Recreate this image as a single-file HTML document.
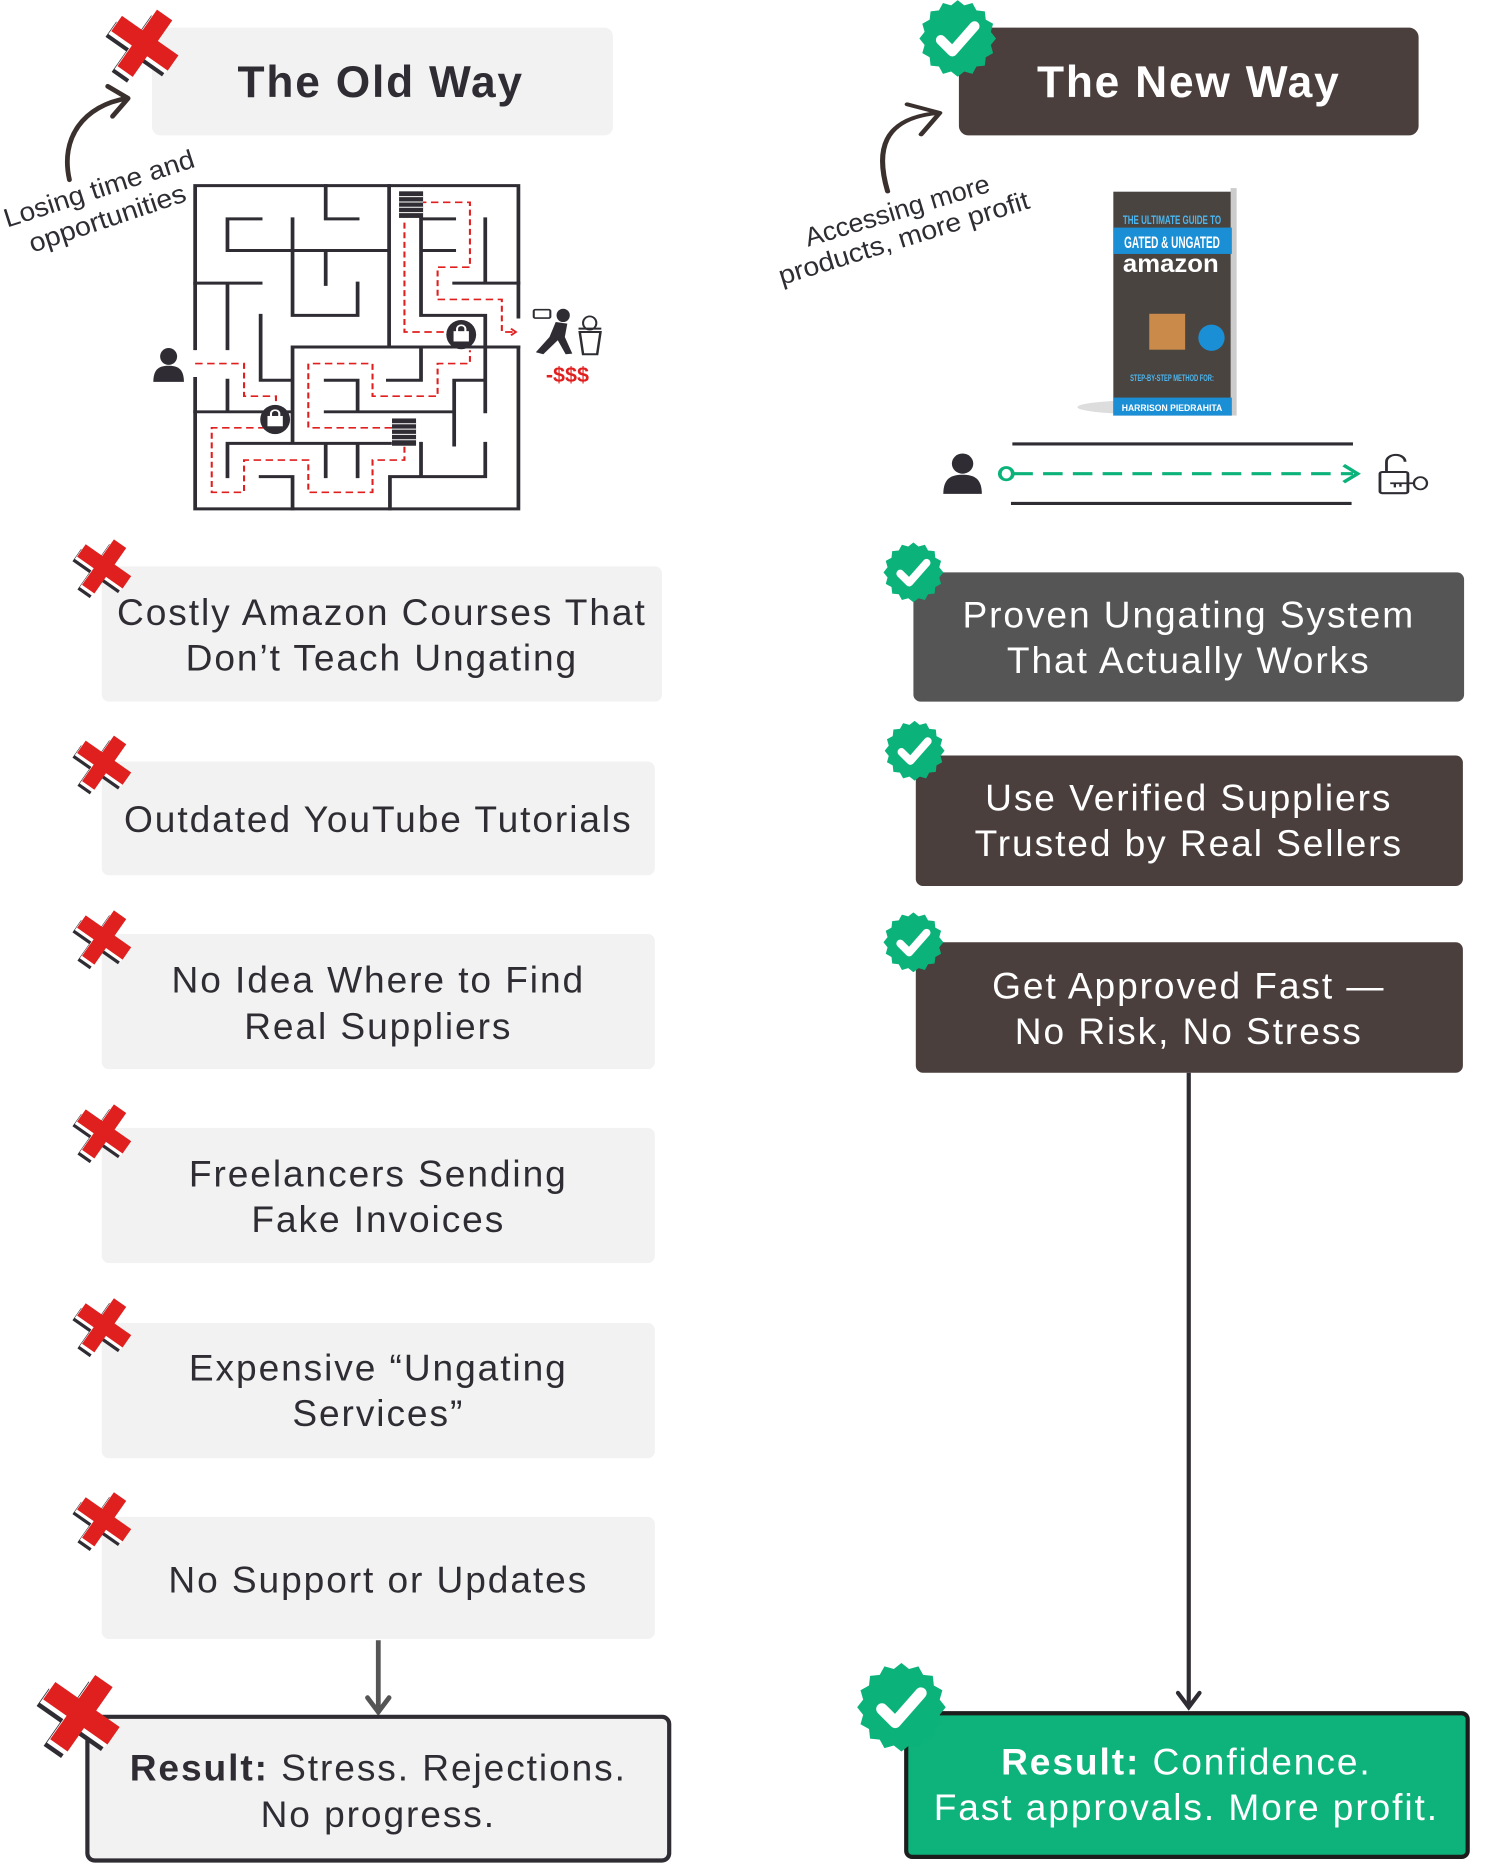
<!DOCTYPE html>
<html><head><meta charset="utf-8"><style>
html,body{margin:0;padding:0;background:#fff;width:1500px;height:1875px;overflow:hidden}
svg{display:block}
.t{font-family:"Liberation Sans",sans-serif;fill:#2f2d33;font-size:31px;letter-spacing:1.6px;text-anchor:middle}
.w{fill:#fff}
.h{font-weight:bold;font-size:37px;letter-spacing:1.5px}
.a{font-family:"Liberation Sans",sans-serif;font-size:22px;fill:#2f2d33}
</style></head><body>
<svg width="1500" height="1875" viewBox="0 0 1253 1566" xmlns="http://www.w3.org/2000/svg">
<defs>
<symbol id="badge" viewBox="-50 -50 100 100">
<polygon fill="#0bb37a" points="50,0 43.2,8.6 46.2,19.2 36.6,24.5 35.4,35.4 24.5,36.6 19.2,46.2 8.6,43.2 0,50 -8.6,43.2 -19.2,46.2 -24.5,36.6 -35.4,35.4 -36.6,24.5 -46.2,19.2 -43.2,8.6 -50,0 -43.2,-8.6 -46.2,-19.2 -36.6,-24.5 -35.4,-35.4 -24.5,-36.6 -19.2,-46.2 -8.6,-43.2 0,-50 8.6,-43.2 19.2,-46.2 24.5,-36.6 35.4,-35.4 36.6,-24.5 46.2,-19.2 43.2,-8.6"/>
<path d="M-22,2 L-7,17 L22,-16" fill="none" stroke="#fff" stroke-width="13" stroke-linecap="round" stroke-linejoin="round"/>
</symbol>
<symbol id="xx" viewBox="-60 -60 120 120">
<g transform="translate(-8,8) rotate(35)"><rect x="-13" y="-48" width="26" height="96" fill="#2f2d33"/><rect x="-48" y="-13" width="96" height="26" fill="#2f2d33"/></g>
<g transform="translate(-4,4) rotate(35)"><rect x="-13" y="-48" width="26" height="96" fill="#fff"/><rect x="-48" y="-13" width="96" height="26" fill="#fff"/></g>
<g transform="rotate(35)"><rect x="-13" y="-48" width="26" height="96" fill="#e01f1f"/><rect x="-48" y="-13" width="96" height="26" fill="#e01f1f"/></g>
</symbol>
<symbol id="person" viewBox="0 0 40 44" preserveAspectRatio="none">
<circle cx="20" cy="12" r="10" fill="#2f2d33"/><path d="M2,42 C2,26 10,23 20,23 C30,23 38,26 38,42 Z" fill="#2f2d33"/>
</symbol>
</defs>

<!-- OLD WAY header -->
<rect x="127" y="23" width="385" height="90" rx="7" fill="#f2f2f2"/>
<text class="t h" x="318" y="81">The Old Way</text>
<use href="#xx" x="82" y="0" width="78" height="72"/>
<path d="M58,150 C50,115 70,88 106,82" fill="none" stroke="#3a302d" stroke-width="4" stroke-linecap="round"/>
<path d="M90,72 L107,82 L94,97" fill="none" stroke="#3a302d" stroke-width="4" stroke-linecap="round" stroke-linejoin="round"/>
<text class="a" transform="translate(6,190) rotate(-17.9)" textLength="166" lengthAdjust="spacingAndGlyphs">Losing time and</text>
<text class="a" transform="translate(27,211) rotate(-18.5)" textLength="137" lengthAdjust="spacingAndGlyphs">opportunities</text>

<!-- maze group in crop coords -->
<g transform="translate(0.3,125.8) scale(0.3462,0.2778)">
<g fill="none" stroke="#2f2d33" stroke-width="9" stroke-linecap="square">
<path d="M470,595 L470,105 L1250,105 L1250,500 M1250,590 L1250,1077 L470,1077 L470,685"/>
<path d="M785,105 L785,205 L862,205 M548,205 L628,205 M548,205 L548,300 L938,300 M705,205 L705,495 L862,495 L862,398 M785,300 L785,402 M938,105 L938,590 M470,398 L628,398 M548,398 L548,595 M628,495 L628,690 L705,690 M1015,205 L1095,205 M1015,205 L1015,495 L1170,495 L1170,590 M1015,300 L1095,300 M1170,205 L1170,398 M1095,398 L1250,398 M705,590 L1250,590 M1170,590 L1170,785 M1015,590 L1015,690 L935,690 M785,690 L862,690 L862,785 M785,785 L1095,785 M1095,690 L1170,690 M1095,690 L1095,885 M470,785 L705,785 M548,690 L548,785 M705,590 L705,880 M548,880 L940,880 M548,880 L548,980 M785,880 L785,980 M862,880 L862,980 M628,980 L705,980 L705,1077 M940,980 L1170,980 M940,980 L940,1077 M1170,880 L1170,980 M1015,880 L1015,975"/>
</g>
<g fill="none" stroke="#e01f1f" stroke-width="5" stroke-dasharray="18 11">
<path d="M470,640 L588,640 L588,738 L665,738 L665,760"/>
<path d="M640,833 L510,833 L510,1027 L588,1027 L588,930 L743,930 L743,1027 L898,1027 L898,930 L975,930 L975,880"/>
<path d="M945,833 L743,833 L743,640 L898,640 L898,738 L1055,738 L1055,640 L1133,640 L1133,600"/>
<path d="M1070,545 L975,545 L975,205"/>
<path d="M1010,155 L1133,155 L1133,350 L1055,350 L1055,447 L1210,447 L1210,545 L1240,545"/>
</g>
<path d="M1232,535 L1244,545 L1232,555" fill="none" stroke="#e01f1f" stroke-width="5"/>
<ellipse cx="663" cy="808" rx="36" ry="44" fill="#2f2d33"/><ellipse cx="1112" cy="553" rx="36" ry="44" fill="#2f2d33"/>
<g fill="none" stroke="#fff" stroke-width="5"><rect x="647" y="800" width="32" height="26" fill="#fff"/><path d="M653,800 v-10 a10,10 0 0 1 20,0 v10"/><rect x="1096" y="545" width="32" height="26" fill="#fff"/><path d="M1102,545 v-10 a10,10 0 0 1 20,0 v10"/></g>
<g fill="#2f2d33"><rect x="962" y="122" width="58" height="80"/><rect x="945" y="805" width="58" height="82"/></g>
<g stroke="#fff" stroke-width="3"><path d="M962,138 H1020 M962,154 H1020 M962,170 H1020 M962,186 H1020 M945,821 H1003 M945,837 H1003 M945,853 H1003 M945,869 H1003"/></g>
<use href="#person" x="365" y="588" width="82" height="112"/>
<g fill="#2f2d33"><ellipse cx="1358" cy="495" rx="16" ry="20"/><path d="M1340,515 L1368,520 L1362,560 L1380,610 L1364,612 L1345,570 L1310,612 L1292,606 L1325,560 Z"/></g>
<rect x="1287" y="478" width="40" height="25" rx="4" fill="none" stroke="#2f2d33" stroke-width="5"/>
<path d="M1398,545 H1448 L1440,612 H1406 Z M1395,535 H1450" fill="none" stroke="#2f2d33" stroke-width="6"/>
<ellipse cx="1422" cy="518" rx="16" ry="20" fill="none" stroke="#2f2d33" stroke-width="5"/>
</g>
<text x="474" y="319" style="font-family:'Liberation Sans',sans-serif;font-size:18px;font-weight:bold;fill:#e01f1f;text-anchor:middle">-$$$</text>

<!-- NEW WAY header -->
<rect x="801" y="23" width="384" height="90" rx="8" fill="#4a3f3c"/>
<text class="t h w" x="993" y="81">The New Way</text>
<use href="#badge" x="768" y="0" width="64" height="64"/>

<g transform="translate(648.2,1.3) scale(0.3887,0.2857)">
<path d="M240,555 C215,440 225,340 350,325" fill="none" stroke="#3a302d" stroke-width="11" stroke-linecap="round"/>
<path d="M282,300 L352,325 L312,388" fill="none" stroke="#3a302d" stroke-width="11" stroke-linecap="round" stroke-linejoin="round"/>
<use href="#person" x="355" y="1315" width="92" height="130"/>
<path d="M508,1293 H1240 M505,1467 H1237" stroke="#2f2d33" stroke-width="9"/>
<path d="M510,1380 H1240" stroke="#0bb37a" stroke-width="9" stroke-dasharray="42 22"/>
<ellipse cx="495" cy="1380" rx="14" ry="18" fill="#fff" stroke="#0bb37a" stroke-width="8"/>
<path d="M1220,1355 L1250,1380 L1220,1405" fill="none" stroke="#0bb37a" stroke-width="9"/>
<rect x="1298" y="1375" width="60" height="62" rx="5" fill="none" stroke="#2f2d33" stroke-width="6"/>
<path d="M1312,1375 V1345 a20,20 0 0 1 40,0" fill="none" stroke="#2f2d33" stroke-width="6"/>
<ellipse cx="1385" cy="1408" rx="14" ry="18" fill="#fff" stroke="#2f2d33" stroke-width="5"/>
<path d="M1320,1408 H1372 M1330,1408 v12 M1342,1408 v10" stroke="#2f2d33" stroke-width="5"/>
</g>
<text class="a" transform="translate(675,206) rotate(-16.8)" textLength="160" lengthAdjust="spacingAndGlyphs">Accessing more</text>
<text class="a" transform="translate(653,238) rotate(-17.2)" textLength="218" lengthAdjust="spacingAndGlyphs">products, more profit</text>

<!-- book -->
<ellipse cx="960" cy="340" rx="60" ry="6" fill="#ddd"/>
<rect x="930" y="160" width="99" height="187" fill="#4a4440"/>
<rect x="1028" y="157" width="5" height="190" fill="#ccc"/>
<rect x="930" y="190" width="99" height="22" fill="#1a8fd6"/>
<rect x="930" y="332" width="99" height="15" fill="#1a8fd6"/>
<text x="979" y="187" textLength="82" lengthAdjust="spacingAndGlyphs" style="font-family:'Liberation Sans',sans-serif;font-size:10px;fill:#4bb6f0;text-anchor:middle;font-weight:bold">THE ULTIMATE GUIDE TO</text>
<text x="979" y="207" textLength="80" lengthAdjust="spacingAndGlyphs" style="font-family:'Liberation Sans',sans-serif;font-size:14px;fill:#fff;text-anchor:middle;font-weight:bold">GATED &amp; UNGATED</text>
<text x="978" y="227" textLength="80" lengthAdjust="spacingAndGlyphs" style="font-family:'Liberation Sans',sans-serif;font-size:21px;fill:#fff;text-anchor:middle;font-weight:bold">amazon</text>
<rect x="960" y="262" width="30" height="30" fill="#c98a4a"/>
<circle cx="1012" cy="282" r="11" fill="#1a8fd6"/>
<text x="979" y="318" textLength="70" lengthAdjust="spacingAndGlyphs" style="font-family:'Liberation Sans',sans-serif;font-size:8px;fill:#4bb6f0;text-anchor:middle;font-weight:bold">STEP-BY-STEP METHOD FOR:</text>
<text x="979" y="343" textLength="84" lengthAdjust="spacingAndGlyphs" style="font-family:'Liberation Sans',sans-serif;font-size:8px;fill:#fff;text-anchor:middle;font-weight:bold">HARRISON PIEDRAHITA</text>

<!-- LEFT items -->
<g fill="#f2f2f2">
<rect x="85" y="473" width="468" height="113" rx="6"/>
<rect x="85" y="636" width="462" height="95" rx="6"/>
<rect x="85" y="780" width="462" height="113" rx="6"/>
<rect x="85" y="942" width="462" height="113" rx="6"/>
<rect x="85" y="1105" width="462" height="113" rx="6"/>
<rect x="85" y="1267" width="462" height="102" rx="6"/>
</g>
<text class="t" x="319" y="522">Costly Amazon Courses That</text>
<text class="t" x="319" y="560">Don’t Teach Ungating</text>
<text class="t" x="316" y="695">Outdated YouTube Tutorials</text>
<text class="t" x="316" y="829">No Idea Where to Find</text>
<text class="t" x="316" y="868">Real Suppliers</text>
<text class="t" x="316" y="991">Freelancers Sending</text>
<text class="t" x="316" y="1029">Fake Invoices</text>
<text class="t" x="316" y="1153">Expensive “Ungating</text>
<text class="t" x="316" y="1191">Services”</text>
<text class="t" x="316" y="1330">No Support or Updates</text>
<use href="#xx" x="56" y="444" width="62" height="58"/>
<use href="#xx" x="56" y="608" width="62" height="58"/>
<use href="#xx" x="56" y="754" width="62" height="58"/>
<use href="#xx" x="56" y="916" width="62" height="58"/>
<use href="#xx" x="56" y="1078" width="62" height="58"/>
<use href="#xx" x="56" y="1240" width="62" height="58"/>

<path d="M316,1370 V1428" stroke="#555" stroke-width="4"/>
<path d="M307,1418 L316,1430 L325,1418" fill="none" stroke="#555" stroke-width="4" stroke-linecap="round"/>
<rect x="73" y="1434" width="486" height="120" rx="6" fill="#f2f2f2" stroke="#2f2d33" stroke-width="3.5"/>
<text class="t" x="316" y="1487"><tspan font-weight="bold">Result:</tspan> Stress. Rejections.</text>
<text class="t" x="316" y="1526">No progress.</text>
<use href="#xx" x="26" y="1390" width="84" height="82"/>

<!-- RIGHT items -->
<rect x="763" y="478" width="460" height="108" rx="6" fill="#555555"/>
<rect x="765" y="631" width="457" height="109" rx="6" fill="#4a3f3c"/>
<rect x="765" y="787" width="457" height="109" rx="6" fill="#4a3f3c"/>
<text class="t w" x="993" y="524">Proven Ungating System</text>
<text class="t w" x="993" y="562">That Actually Works</text>
<text class="t w" x="993" y="677">Use Verified Suppliers</text>
<text class="t w" x="993" y="715">Trusted by Real Sellers</text>
<text class="t w" x="993" y="834">Get Approved Fast —</text>
<text class="t w" x="993" y="872">No Risk, No Stress</text>
<use href="#badge" x="738" y="453" width="50" height="50"/>
<use href="#badge" x="739" y="602" width="50" height="50"/>
<use href="#badge" x="738" y="762" width="50" height="50"/>

<path d="M993,896 V1424" stroke="#2f2d33" stroke-width="3.5"/>
<path d="M984,1414 L993,1426 L1002,1414" fill="none" stroke="#2f2d33" stroke-width="3.5" stroke-linecap="round"/>
<rect x="757" y="1431" width="469" height="120" rx="5" fill="#0db37b" stroke="#1d1d1d" stroke-width="3.5"/>
<text class="t w" x="991" y="1482"><tspan font-weight="bold">Result:</tspan> Confidence.</text>
<text class="t w" x="991" y="1520">Fast approvals. More profit.</text>
<use href="#badge" x="716" y="1389" width="74" height="74"/>
</svg>
</body></html>
